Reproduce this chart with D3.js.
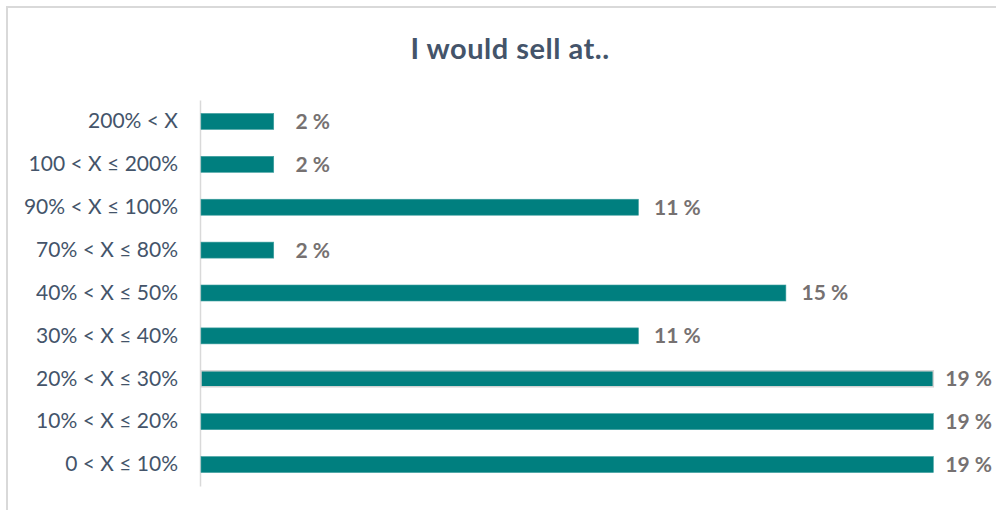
<!DOCTYPE html>
<html>
<head>
<meta charset="utf-8">
<script src="https://cdn.jsdelivr.net/npm/d3@7"></script>
<style>
  html, body { margin: 0; padding: 0; background: #ffffff; }
  svg { display: block; }
</style>
</head>
<body>
<svg id="chart" width="996" height="510"></svg>
<script>
// Answer ranges, listed top to bottom
const categories = [
  "200% < X",
  "100 < X ≤ 200%",
  "90% < X ≤ 100%",
  "70% < X ≤ 80%",
  "40% < X ≤ 50%",
  "30% < X ≤ 40%",
  "20% < X ≤ 30%",
  "10% < X ≤ 20%",
  "0 < X ≤ 10%"
];
// Share of respondents (%), shown rounded to whole percent
const shares = [1.9, 1.9, 11.3, 1.9, 15.1, 11.3, 18.9, 18.9, 18.9];
const title = "I would sell at..";
const selectedCategory = "20% < X ≤ 30%";

const data = categories.map((c, i) => ({ category: c, value: shares[i] }));

const svg = d3.select("#chart");
const W = 996, H = 510;

// chart frame
svg.append("rect")
  .attr("x", 7).attr("y", 7)
  .attr("width", W + 10).attr("height", H + 10)
  .attr("fill", "#ffffff")
  .attr("stroke", "#d9d9d9")
  .attr("stroke-width", 2);

svg.append("text")
  .attr("x", 510).attr("y", 59)
  .attr("text-anchor", "middle")
  .attr("font-family", "Lato, 'Open Sans', sans-serif")
  .attr("font-weight", "bold")
  .attr("font-size", 29)
  .attr("letter-spacing", 0.5)
  .attr("fill", "#44546a")
  .text(title);

const plot = { left: 200, top: 100, bottom: 486 };

const x = d3.scaleLinear().domain([0, 20]).range([plot.left, plot.left + 776]);
const y = d3.scaleBand()
  .domain(categories)
  .range([plot.top, plot.bottom])
  .paddingInner(0.627)
  .paddingOuter(0.3135);

// category axis
const yAxis = d3.axisLeft(y).tickSize(0).tickPadding(22);
const gy = svg.append("g")
  .attr("transform", `translate(${plot.left},0)`)
  .call(yAxis);
gy.select(".domain").attr("stroke", "#d9d9d9").attr("stroke-width", 1.5);
gy.selectAll("text")
  .attr("font-family", "Lato, 'Open Sans', sans-serif")
  .attr("font-size", 21)
  .attr("fill", "#44546a");

// bars
svg.append("g").selectAll("rect")
  .data(data)
  .join("rect")
  .attr("x", x(0) + 1)
  .attr("y", d => y(d.category))
  .attr("width", d => x(d.value) - x(0) - 1)
  .attr("height", y.bandwidth())
  .attr("fill", "#007f7f")
  .attr("stroke", d => d.category === selectedCategory ? "#d4d4d4" : "#3f9f9f")
  .attr("stroke-width", d => d.category === selectedCategory ? 1.5 : 0.6);

// value labels, centred just past each bar end and kept inside the frame
const fmt = v => `${Math.round(v)} %`;
const rightLimit = W - 4;
svg.append("g").selectAll("text")
  .data(data)
  .join("text")
  .attr("y", d => y(d.category) + y.bandwidth() / 2 + 2)
  .attr("text-anchor", "middle")
  .attr("dominant-baseline", "middle")
  .attr("font-family", "Lato, 'Open Sans', sans-serif")
  .attr("font-weight", "bold")
  .attr("font-size", 21)
  .attr("fill", "#767171")
  .text(d => fmt(d.value))
  .attr("x", function (d) {
    const half = this.getComputedTextLength() / 2;
    return Math.min(x(d.value) + 39, rightLimit - half);
  });
</script>
</body>
</html>
